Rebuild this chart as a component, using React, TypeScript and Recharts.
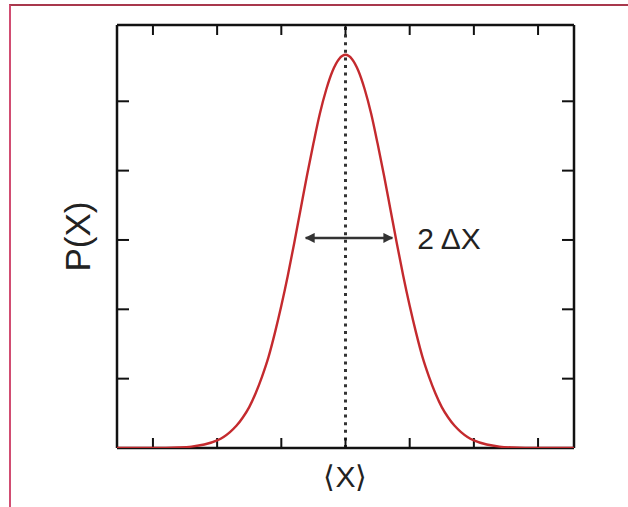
import React from 'react'
import { LineChart, Line, XAxis, YAxis, ReferenceLine, Label } from 'recharts'

// sample positions along X and the probability density read at each
const xValues = [
  -3.56, -3.0, -2.6, -2.4, -2.2, -2.0, -1.9, -1.8, -1.7, -1.6, -1.5, -1.4, -1.3, -1.2, -1.1,
  -1.0, -0.9, -0.8, -0.7, -0.6, -0.5, -0.4, -0.3, -0.2, -0.1, 0.0, 0.1, 0.2, 0.3, 0.4, 0.5,
  0.6, 0.7, 0.8, 0.9, 1.0, 1.1, 1.2, 1.3, 1.4, 1.5, 1.6, 1.7, 1.8, 1.9, 2.0, 2.2, 2.4, 2.6,
  3.0, 3.56,
]
const density = [
  0, 0, 0.008, 0.02, 0.05, 0.11, 0.16, 0.23, 0.32, 0.44, 0.59, 0.79, 1.03, 1.31, 1.66,
  2.05, 2.48, 2.95, 3.44, 3.93, 4.39, 4.82, 5.17, 5.44, 5.61, 5.67, 5.61, 5.44, 5.17, 4.82, 4.39,
  3.93, 3.44, 2.95, 2.48, 2.05, 1.66, 1.31, 1.03, 0.79, 0.59, 0.44, 0.32, 0.23, 0.16, 0.11, 0.05, 0.02, 0.008,
  0, 0,
]

const xTicks = [-3, -2, -1, 0, 1, 2, 3]
const yTicks = [1, 2, 3, 4, 5]
const xDomain = [-3.56, 3.56]
const yDomain = [0, 6.1]

// mean position and the width arrow (level, left tip, right tip)
const meanX = 0
const spreadLevel = 3.03
const spreadLeft = -0.62
const spreadRight = 0.73

const data = xValues.map((x, i) => ({ x, p: density[i] }))

const FONT = '"Liberation Sans", Arial, Helvetica, sans-serif'
const AXIS = { stroke: '#111', strokeWidth: 2.5 }
const TICK = { stroke: '#111', strokeWidth: 2 }
const noLabel = () => ''

const DoubleArrow = (props: any) => {
  const { x1, y1, x2, y2 } = props
  return (
    <g>
      <defs>
        <marker
          id="spreadHead"
          viewBox="0 0 10 10"
          refX="9"
          refY="5"
          markerWidth="4"
          markerHeight="4"
          orient="auto-start-reverse"
        >
          <path d="M0,0 L10,5 L0,10 z" fill="#333" />
        </marker>
      </defs>
      <line
        x1={x1}
        y1={y1}
        x2={x2}
        y2={y2}
        stroke="#333"
        strokeWidth={2.5}
        markerStart="url(#spreadHead)"
        markerEnd="url(#spreadHead)"
      />
    </g>
  )
}

export default function App() {
  return (
    <div style={{ position: 'absolute', left: 0, top: 0, width: 628, height: 507, background: '#fff' }}>
      <div
        style={{
          position: 'absolute',
          left: 9,
          top: 4,
          right: 0,
          bottom: 0,
          borderTop: '2px solid #a8384c',
          borderLeft: '2px solid #d14d72',
        }}
      />
      <div style={{ position: 'absolute', left: 0, top: 0 }}>
        <LineChart
          width={628}
          height={507}
          data={data}
          margin={{ top: 24, right: 53, bottom: 3, left: 39 }}
          style={{ fontFamily: FONT }}
        >
          <XAxis
            xAxisId="bottom"
            dataKey="x"
            type="number"
            orientation="bottom"
            domain={xDomain}
            ticks={xTicks}
            allowDataOverflow
            height={56}
            tickSize={-10}
            tickFormatter={noLabel}
            axisLine={AXIS}
            tickLine={TICK}
          >
            <Label value="⟨X⟩" position="center" fontSize={30} fill="#222" fontFamily={FONT} />
          </XAxis>
          <XAxis
            xAxisId="top"
            dataKey="x"
            type="number"
            orientation="top"
            domain={xDomain}
            ticks={xTicks}
            allowDataOverflow
            height={1}
            tickSize={-10}
            tickFormatter={noLabel}
            axisLine={AXIS}
            tickLine={TICK}
          />
          <YAxis
            yAxisId="left"
            type="number"
            orientation="left"
            domain={yDomain}
            ticks={yTicks}
            allowDataOverflow
            width={78}
            tickSize={-12}
            tickFormatter={noLabel}
            axisLine={AXIS}
            tickLine={TICK}
          >
            <Label value="P(X)" position="center" angle={-90} fontSize={35} fill="#222" fontFamily={FONT} />
          </YAxis>
          <YAxis
            yAxisId="right"
            type="number"
            orientation="right"
            domain={yDomain}
            ticks={yTicks}
            allowDataOverflow
            width={1}
            tickSize={-12}
            tickFormatter={noLabel}
            axisLine={AXIS}
            tickLine={TICK}
          />
          <ReferenceLine
            xAxisId="bottom"
            yAxisId="left"
            x={meanX}
            stroke="#333"
            strokeWidth={3}
            strokeDasharray="3 4.6"
          />
          <ReferenceLine
            xAxisId="bottom"
            yAxisId="left"
            segment={[
              { x: spreadLeft, y: spreadLevel },
              { x: spreadRight, y: spreadLevel },
            ]}
            shape={DoubleArrow}
          >
            <Label value="2 ΔX" position="right" offset={25} fontSize={30} fill="#222" fontFamily={FONT} />
          </ReferenceLine>
          <Line
            xAxisId="bottom"
            yAxisId="left"
            dataKey="p"
            type="monotone"
            stroke="#c42a2e"
            strokeWidth={2.4}
            dot={false}
            activeDot={false}
            isAnimationActive={false}
            zIndex={900}
          />
        </LineChart>
      </div>
    </div>
  )
}
